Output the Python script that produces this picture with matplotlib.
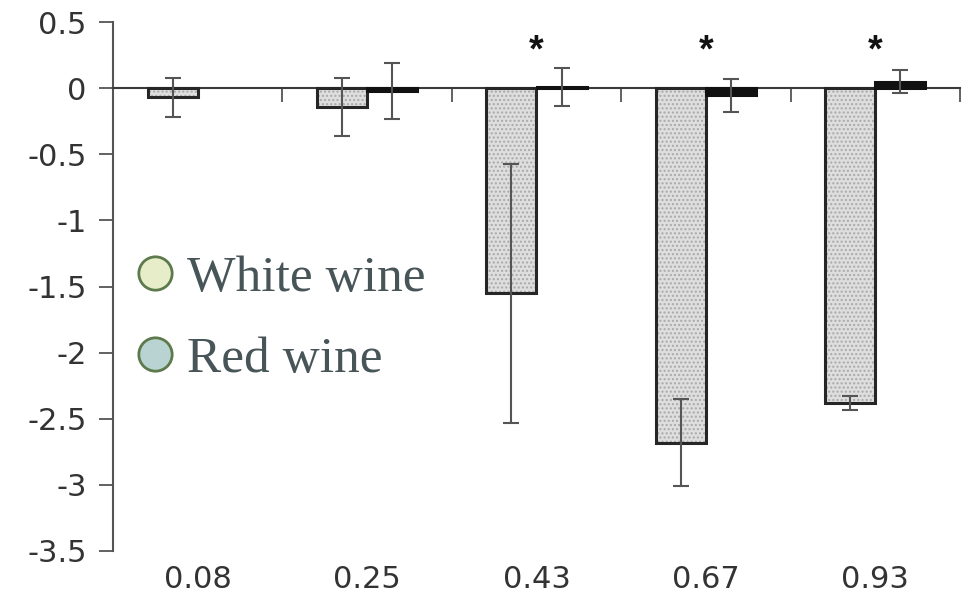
import matplotlib
matplotlib.use("Agg")
import matplotlib.pyplot as plt
from matplotlib.lines import Line2D
import numpy as np

# data
categories = ["0.08", "0.25", "0.43", "0.67", "0.93"]
white_mean = [-0.07, -0.14, -1.55, -2.68, -2.38]
white_err = [0.15, 0.22, 0.98, 0.33, 0.055]
red_mean = [np.nan, -0.02, 0.01, -0.055, 0.05]
red_err = [np.nan, 0.21, 0.145, 0.125, 0.09]
significant = [False, False, True, True, True]
yticks = [0.5, 0, -0.5, -1, -1.5, -2, -2.5, -3, -3.5]
ytick_labels = ["0.5", "0", "-0.5", "-1", "-1.5", "-2", "-2.5", "-3", "-3.5"]
legend_labels = ["White wine", "Red wine"]

TICK_FONT = "DejaVu Sans"
AXIS_GREY = "#555555"

fig = plt.figure(figsize=(9.73, 5.97), dpi=100)
ax = fig.add_axes([113 / 973, 1 - 551 / 597, (960 - 113) / 973, (551 - 22) / 597])

x = np.arange(1, len(categories) + 1)
w = 0.295
off = 0.148

# white wine: dotted light grey fill, then dark outline on top
ax.bar(x - off, white_mean, w, color="#dedede", edgecolor="#a9a9a9",
       hatch="....", linewidth=0, zorder=2)
ax.bar(x - off, white_mean, w, fill=False, edgecolor="#262626",
       linewidth=2.2, zorder=3)
ax.errorbar(x - off, white_mean, yerr=white_err, fmt="none",
            ecolor=AXIS_GREY, elinewidth=1.5, capsize=6, capthick=1.5, zorder=4)

# red wine: solid black
ax.bar(x + off, red_mean, w, color="#111111", edgecolor="#111111",
       linewidth=2.2, zorder=3)
ax.errorbar(x + off, red_mean, yerr=red_err, fmt="none",
            ecolor=AXIS_GREY, elinewidth=1.5, capsize=6, capthick=1.5, zorder=4)

for xi, sig in zip(x, significant):
    if sig:
        ax.text(xi, 0.28, "*", ha="center", va="center", fontsize=27,
                fontweight="bold", family="Liberation Sans", color="#111111")

ax.set_xlim(0.5, len(categories) + 0.5)
ax.set_ylim(-3.5, 0.5)

# axis styling
for s in ("top", "right"):
    ax.spines[s].set_visible(False)
ax.spines["left"].set_color(AXIS_GREY)
ax.spines["left"].set_linewidth(1.5)
ax.spines["bottom"].set_position(("data", 0))
ax.spines["bottom"].set_color("#3a3a3a")
ax.spines["bottom"].set_linewidth(1.5)
ax.set_xticks(x + 0.5)
ax.set_xticklabels([])
ax.tick_params(axis="x", direction="out", length=10, width=1.3, color=AXIS_GREY)

ax.set_yticks(yticks)
ax.set_yticklabels(ytick_labels, family=TICK_FONT, fontsize=22, color="#333333")
ax.tick_params(axis="y", direction="out", length=10, width=1.3, color=AXIS_GREY, pad=9)

sec = ax.secondary_xaxis("bottom")
sec.set_xticks(x)
sec.set_xticklabels(categories, family=TICK_FONT, fontsize=22, color="#333333")
sec.tick_params(length=0, pad=10)
sec.spines["bottom"].set_visible(False)

handles = [
    Line2D([], [], marker="o", linestyle="none", markersize=24,
           markerfacecolor="#e8edc9", markeredgecolor="#5c7a4c", markeredgewidth=2),
    Line2D([], [], marker="o", linestyle="none", markersize=24,
           markerfacecolor="#b9d3d3", markeredgecolor="#5c7a4c", markeredgewidth=2),
]
fig.legend(handles, legend_labels, loc="upper left",
           bbox_to_anchor=(106 / 973, 1 - 229 / 597), frameon=False,
           prop={"family": "Liberation Serif", "size": 37},
           labelcolor="#485558", handletextpad=0.17, handlelength=0.9,
           labelspacing=0.67, borderpad=0)

fig.savefig("out.png", dpi=100, facecolor="white")
